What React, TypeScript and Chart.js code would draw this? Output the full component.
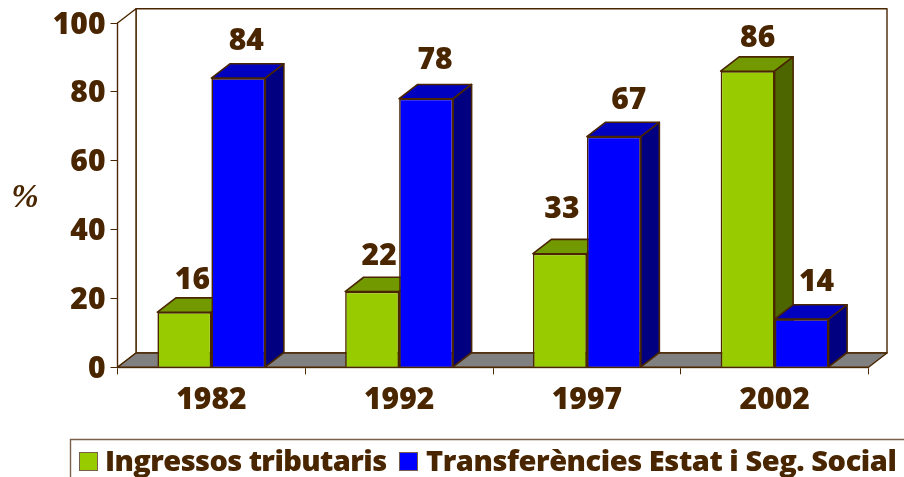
import React, { useEffect, useRef } from "react";
import { Chart, registerables } from "chart.js";

Chart.register(...registerables);

const categories = ["1982", "1992", "1997", "2002"];
const tributaris = [16, 22, 33, 86];
const transferencies = [84, 78, 67, 14];
const seriesNames = ["Ingressos tributaris", "Transferències Estat i Seg. Social"];
const yTicks = [0, 20, 40, 60, 80, 100];

const BROWN = "#4a2600";
const GREEN = ["#99cc00", "#739900", "#4d6600"];
const BLUE = ["#0000ff", "#0000bf", "#000080"];
const FONT = '"Open Sans"';
const WEIGHT = 800;
const SIZE = 30;
const LEGEND_SIZE = 29;
const DX = 18.5;
const DY = 14.3;
const LABEL_NUDGE = [
  [[8, -32], [7, -35], [2, -44], [10, -33]],
  [[8, -37], [9, -38], [15, -36], [15, -37]],
];

function poly(ctx: CanvasRenderingContext2D, pts: number[][], fill: string | null, stroke: string | null, lw = 1) {
  ctx.beginPath();
  pts.forEach((p, i) => (i ? ctx.lineTo(p[0], p[1]) : ctx.moveTo(p[0], p[1])));
  ctx.closePath();
  if (fill) {
    ctx.fillStyle = fill;
    ctx.fill();
  }
  if (stroke) {
    ctx.strokeStyle = stroke;
    ctx.lineWidth = lw;
    ctx.stroke();
  }
}

const scene3d = {
  id: "scene3d",
  beforeDatasetsDraw(chart: any) {
    const { ctx, chartArea: a } = chart;
    ctx.save();
    ctx.lineJoin = "round";
    poly(ctx, [[a.left + DX, a.top - DY], [a.right + DX, a.top - DY], [a.right + DX, a.bottom - DY], [a.left + DX, a.bottom - DY]], "#ffffff", BROWN, 1.4);
    poly(ctx, [[a.left, a.top], [a.left + DX, a.top - DY], [a.left + DX, a.bottom - DY], [a.left, a.bottom]], "#ffffff", BROWN, 1.4);
    poly(ctx, [[a.left, a.bottom], [a.left + DX, a.bottom - DY], [a.right + DX, a.bottom - DY], [a.right, a.bottom]], "#808080", BROWN, 1.4);
    [GREEN, BLUE].forEach((colors, di) => {
      chart.getDatasetMeta(di).data.forEach((bar: any) => {
        const half = bar.width / 2;
        const l = bar.x - half;
        const r = bar.x + half;
        const t = bar.y;
        const b = bar.base;
        poly(ctx, [[l, t], [l + DX, t - DY], [r + DX, t - DY], [r, t]], colors[1], BROWN, 1.6);
        poly(ctx, [[r, t], [r + DX, t - DY], [r + DX, b - DY], [r, b]], colors[2], BROWN, 1.6);
      });
    });
    ctx.restore();
  },
  afterDatasetsDraw(chart: any) {
    const { ctx } = chart;
    ctx.save();
    ctx.fillStyle = BROWN;
    ctx.font = `${WEIGHT} ${SIZE}px ${FONT}`;
    ctx.textAlign = "center";
    ctx.textBaseline = "middle";
    chart.data.datasets.forEach((ds: any, di: number) => {
      chart.getDatasetMeta(di).data.forEach((bar: any, i: number) => {
        const n = LABEL_NUDGE[di][i];
        ctx.fillText(String(ds.data[i]), bar.x + n[0], bar.y + n[1]);
      });
    });
    ctx.font = `italic bold 33px "Liberation Serif"`;
    ctx.fillText("%", 25, 198);

    const top = 439.5;
    const left = 70.5;
    ctx.strokeStyle = "#7a5f4a";
    ctx.lineWidth = 1.4;
    ctx.beginPath();
    ctx.moveTo(left, 477);
    ctx.lineTo(left, top);
    ctx.lineTo(904, top);
    ctx.stroke();
    ctx.textAlign = "left";
    ctx.font = `${WEIGHT} ${LEGEND_SIZE}px ${FONT}`;
    const entries = [
      { box: 79.5, text: 105, c: GREEN[0], spacing: "-0.6px" },
      { box: 399.5, text: 426, c: BLUE[0], spacing: "-0.45px" },
    ];
    entries.forEach((e, i) => {
      ctx.fillStyle = e.c;
      ctx.strokeStyle = "#7a5f4a";
      ctx.lineWidth = 1;
      ctx.fillRect(e.box, 452.5, 18, 18);
      ctx.strokeRect(e.box, 452.5, 18, 18);
      ctx.fillStyle = BROWN;
      (ctx as any).letterSpacing = e.spacing;
      ctx.fillText(seriesNames[i], e.text, 463);
    });
    ctx.restore();
  },
};

export default function App() {
  const ref = useRef<HTMLCanvasElement>(null);
  useEffect(() => {
    document.body.style.margin = "0";
    const tickFont = { family: FONT, weight: WEIGHT, size: SIZE };
    const chart = new Chart(ref.current!, {
      type: "bar",
      data: {
        labels: categories,
        datasets: [
          { label: seriesNames[0], data: tributaris, backgroundColor: GREEN[0], borderColor: BROWN, borderWidth: 1.6, barPercentage: 1, categoryPercentage: 0.575 },
          { label: seriesNames[1], data: transferencies, backgroundColor: BLUE[0], borderColor: BROWN, borderWidth: 1.6, barPercentage: 1, categoryPercentage: 0.575 },
        ],
      },
      options: {
        responsive: false,
        animation: false,
        layout: { padding: { top: 22.7, right: 35.5, left: 0, bottom: 0 } },
        plugins: { legend: { display: false }, tooltip: { enabled: false }, title: { display: false } },
        scales: {
          x: {
            grid: { display: true, drawOnChartArea: false, drawTicks: true, tickLength: 7, color: BROWN, offset: true },
            border: { display: true, color: "#7a5f4a", width: 1.2 },
            ticks: { color: BROWN, font: tickFont, padding: 8, maxRotation: 0 },
            afterFit: (s: any) => { s.height = 109.7; },
          },
          y: {
            min: 0,
            max: 100,
            afterBuildTicks: (s: any) => { s.ticks = yTicks.map((value) => ({ value })); },
            grid: { display: true, drawOnChartArea: false, drawTicks: true, tickLength: 7, color: BROWN },
            border: { display: true, color: "#7a5f4a", width: 1.2 },
            ticks: { color: BROWN, font: tickFont, padding: 5, labelOffset: 2 },
            afterFit: (s: any) => { s.width = 117.5; },
          },
        },
      },
      plugins: [scene3d],
    } as any);
    return () => chart.destroy();
  }, []);
  return <canvas ref={ref} width={904} height={477} style={{ display: "block", width: 904, height: 477 }} />;
}
